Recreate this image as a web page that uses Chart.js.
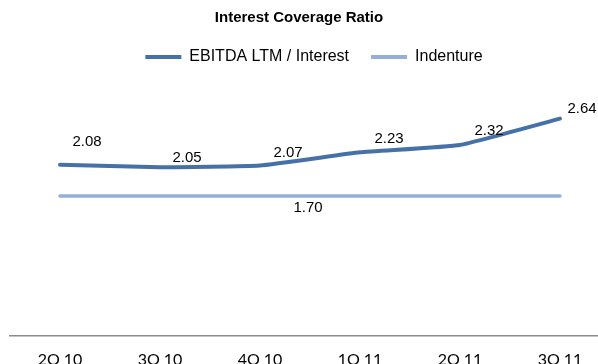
<!DOCTYPE html>
<html><head><meta charset="utf-8">
<script src="https://cdn.jsdelivr.net/npm/chart.js@4.4.0/dist/chart.umd.min.js"></script>
<style>
html,body{margin:0;padding:0;background:#fff;overflow:hidden}
#wrap{width:598px;height:364px;overflow:hidden;position:relative}
#box{width:620px;height:383px;position:absolute;left:0;top:0}
</style></head><body>
<div id="wrap"><div id="box"><canvas id="c"></canvas></div></div>
<script>
const categories = ['2Q 10', '3Q 10', '4Q 10', '1Q 11', '2Q 11', '3Q 11'];
const ebitdaCoverage = [2.08, 2.05, 2.07, 2.23, 2.32, 2.64];
const indenture = [1.70, 1.70, 1.70, 1.70, 1.70, 1.70];
const seriesNames = ['EBITDA LTM / Interest', 'Indenture'];
const yMin = 0, yMax = 3;
const chartTitle = 'Interest Coverage Ratio';

const valueLabels = {
  id: 'valueLabels',
  afterDatasetsDraw(chart) {
    const ctx = chart.ctx;
    ctx.save();
    ctx.font = '15px "Liberation Sans", Arial, sans-serif';
    ctx.fillStyle = '#000';
    ctx.textAlign = 'center';
    ctx.textBaseline = 'middle';
    const dx = [27, 27, 28, 29, 29, 22], dy = [-23, -9, -13, -13, -14, -10];
    chart.getDatasetMeta(0).data.forEach((pt, i) => {
      ctx.fillText(ebitdaCoverage[i].toFixed(2), pt.x + dx[i], pt.y + dy[i]);
    });
    const m1 = chart.getDatasetMeta(1).data;
    const a = m1[2], b = m1[3];
    ctx.fillText(indenture[2].toFixed(2), (a.x + b.x) / 2 - 2, a.y + 12);
    ctx.restore();
  }
};
const layoutTweaks = {
  id: 'layoutTweaks',
  beforeInit(chart) {
    const orig = chart.legend.fit;
    chart.legend.fit = function () { orig.call(this); this.height += 14; };
  },
  afterLayout(chart) {
    if (chart.titleBlock) chart.titleBlock.right -= 22;
    if (chart.legend) chart.legend.left += 8;
  }
};

new Chart(document.getElementById('c'), {
  type: 'line',
  data: {
    labels: categories,
    datasets: [
      { label: seriesNames[0], data: ebitdaCoverage, borderColor: '#4571A8', backgroundColor: '#4571A8',
        borderWidth: 4, pointRadius: 0, tension: 0.12, borderCapStyle: 'round', borderJoinStyle: 'round' },
      { label: seriesNames[1], data: indenture, borderColor: '#94B0D8', backgroundColor: '#94B0D8',
        borderWidth: 3.5, pointRadius: 0, tension: 0, borderCapStyle: 'round' }
    ]
  },
  options: {
    responsive: true, maintainAspectRatio: false, animation: false,
    layout: { padding: { left: 10, right: 10, top: 0, bottom: 0 } },
    plugins: {
      tooltip: { enabled: false },
      title: { display: true, text: chartTitle, color: '#000',
        font: { family: '"Liberation Sans", Arial, sans-serif', size: 15, weight: 'bold' },
        padding: { top: 9, bottom: 0 } },
      legend: {
        position: 'top',
        labels: {
          color: '#000', boxWidth: 36, boxHeight: 4, padding: 22,
          font: { family: '"Liberation Sans", Arial, sans-serif', size: 16 },
          generateLabels(chart) {
            const items = Chart.defaults.plugins.legend.labels.generateLabels(chart);
            items.forEach(it => { it.lineWidth = 0; it.fillStyle = it.strokeStyle; });
            return items;
          }
        }
      }
    },
    scales: {
      x: {
        offset: true,
        grid: { display: false, drawTicks: false },
        border: { display: true, color: '#8C8C8C', width: 1.5 },
        ticks: { color: '#000', padding: 14, maxRotation: 0,
          font: { family: 'Lato, "Open Sans", sans-serif', size: 16 } }
      },
      y: { display: false, min: yMin, max: yMax }
    }
  },
  plugins: [valueLabels, layoutTweaks]
});
</script>
</body></html>
